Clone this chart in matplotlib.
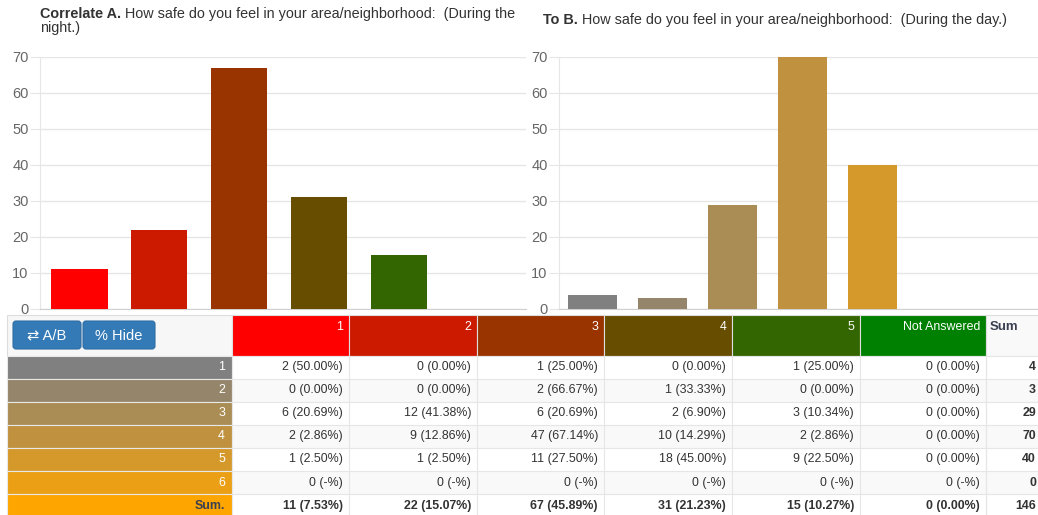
import numpy as np
import matplotlib
matplotlib.use("Agg")
import matplotlib.pyplot as plt
from matplotlib.patches import Rectangle, FancyBboxPatch

plt.rcParams["font.family"] = ["Liberation Sans", "DejaVu Sans"]

# 数据: 行 = B (白天), 列 = A (夜间)
row_labels = ["1", "2", "3", "4", "5", "6"]
col_labels = ["1", "2", "3", "4", "5", "Not Answered"]
counts = np.array([
    [2, 0, 1, 0, 1, 0],
    [0, 0, 2, 1, 0, 0],
    [6, 12, 6, 2, 3, 0],
    [2, 9, 47, 10, 2, 0],
    [1, 1, 11, 18, 9, 0],
    [0, 0, 0, 0, 0, 0],
])
col_colors = ["#FF0000", "#CC1A00", "#993300", "#664D00", "#336600", "#008000"]
row_colors = ["#808080", "#95866B", "#AA8C55", "#C09240", "#D5992B", "#EA9F15"]
sum_color = "#FFA500"

title_a_bold = "Correlate A."
title_a = " How safe do you feel in your area/neighborhood:  (During the"
title_a2 = "night.)"
title_b_bold = "To B."
title_b = " How safe do you feel in your area/neighborhood:  (During the day.)"

col_sums = counts.sum(axis=0)
row_sums = counts.sum(axis=1)
total = counts.sum()

W, H = 1038, 515
fig = plt.figure(figsize=(W / 100, H / 100), dpi=100)


def px_rect(x0, y0, x1, y1):
    return [x0 / W, 1 - y1 / H, (x1 - x0) / W, (y1 - y0) / H]


GRID = "#e6e6e6"


def bar_chart(rect, cats, vals, colors, xlim, width):
    ax = fig.add_axes(rect)
    x = np.arange(len(cats))
    ax.bar(x, vals, width=width, color=colors, zorder=3)
    ax.set_xlim(*xlim)
    ax.set_ylim(0, 70)
    ax.set_yticks(np.arange(0, 71, 10))
    ax.yaxis.grid(True, color=GRID, lw=1, zorder=0)
    ax.set_xticks([])
    for s in ["top", "right"]:
        ax.spines[s].set_visible(False)
    ax.spines["left"].set_color(GRID)
    ax.spines["bottom"].set_color("#d0d0d0")
    ax.tick_params(axis="y", length=7.2, color=GRID, labelcolor="#666666",
                   labelsize=10.5, pad=1)
    ax.patch.set_alpha(0)
    return ax


bar_chart(px_rect(40, 57, 526, 309), col_labels, col_sums, col_colors,
          (-0.49, 5.59), 0.71)
bar_chart(px_rect(559, 57, 1038, 309), row_labels, row_sums, row_colors,
          (-0.48, 6.36), 0.7)

# 覆盖层: 像素坐标画标题和表格
ov = fig.add_axes([0, 0, 1, 1])
ov.set_xlim(0, W)
ov.set_ylim(H, 0)
ov.axis("off")

TXT = "#333333"
TFS = 10.4
t = ov.text(40, 21, title_a_bold, fontsize=TFS, fontweight="bold", color=TXT, va="bottom")
ov.annotate(title_a, xy=(1, 0), xycoords=t, fontsize=TFS, color=TXT, va="bottom")
ov.text(40, 35, title_a2, fontsize=TFS, color=TXT, va="bottom")
t = ov.text(543, 27, title_b_bold, fontsize=TFS, fontweight="bold", color=TXT, va="bottom")
ov.annotate(title_b, xy=(1, 0), xycoords=t, fontsize=TFS, color=TXT, va="bottom")

# 表格
edges = [232, 349, 477, 604, 732, 860, 986]
top, head_h, row_h = 315, 40.5, 23.1
FS = 8.9

ov.add_patch(Rectangle((7, top), 225, head_h, facecolor="#f7f7f7", edgecolor="#dddddd", lw=0.8))
for j, lab in enumerate(col_labels):
    x0, x1 = edges[j], edges[j + 1]
    ov.add_patch(Rectangle((x0, top), x1 - x0, head_h, facecolor=col_colors[j],
                           edgecolor="#dddddd", lw=0.8))
    ov.text(x1 - 6, top + 12, lab, ha="right", va="center", color="white", fontsize=FS)
ov.add_patch(Rectangle((986, top), 80, head_h, facecolor="#f9f9f9", edgecolor="#dddddd", lw=0.8))
ov.text(990, top + 12, "Sum", ha="left", va="center", color="#3a3f51",
        fontsize=9.5, fontweight="bold")

# 按钮
for (bx0, bx1, lab) in [(13, 81, "\u21c4 A/B"), (83, 155, "% Hide")]:
    ov.add_patch(FancyBboxPatch((bx0, 321), bx1 - bx0, 28, boxstyle="round,pad=0,rounding_size=3",
                                facecolor="#337ab7", edgecolor="#2e6da4", lw=0.8))
    ov.text((bx0 + bx1) / 2, 335.5, lab, ha="center", va="center", color="white", fontsize=10.5)

all_labels = row_labels + ["Sum."]
all_colors = row_colors + [sum_color]
for i, lab in enumerate(all_labels):
    y0 = top + head_h + i * row_h
    is_sum = i == len(row_labels)
    ov.add_patch(Rectangle((7, y0), 225, row_h, facecolor=all_colors[i],
                           edgecolor="#e8e8e8", lw=0.8))
    ov.text(225, y0 + row_h / 2, lab, ha="right", va="center",
            color="#3a3f51" if is_sum else "white", fontsize=FS,
            fontweight="bold" if is_sum else "normal")
    bg = "#f9f9f9" if i % 2 == 1 and not is_sum else "white"
    ov.add_patch(Rectangle((232, y0), 1100, row_h, facecolor=bg, edgecolor="none"))
    if is_sum:
        vals = col_sums
        denom = total
        rsum = total
    else:
        vals = counts[i]
        denom = row_sums[i]
        rsum = row_sums[i]
    for j, v in enumerate(vals):
        x1 = edges[j + 1]
        if denom > 0:
            s = f"{v} ({100 * v / denom:.2f}%)"
        else:
            s = f"{v} (-%)"
        ov.text(x1 - 6, y0 + row_h / 2, s, ha="right", va="center", color=TXT,
                fontsize=FS, fontweight="bold" if is_sum else "normal")
    ov.text(1036, y0 + row_h / 2, str(rsum), ha="right", va="center", color=TXT,
            fontsize=FS, fontweight="bold")
    ov.plot([232, W], [y0, y0], color="#e6e6e6", lw=0.8)

for x in edges + [986]:
    ov.plot([x, x], [top + head_h, H], color="#e6e6e6", lw=0.8)

fig.savefig("out.png", dpi=100)
